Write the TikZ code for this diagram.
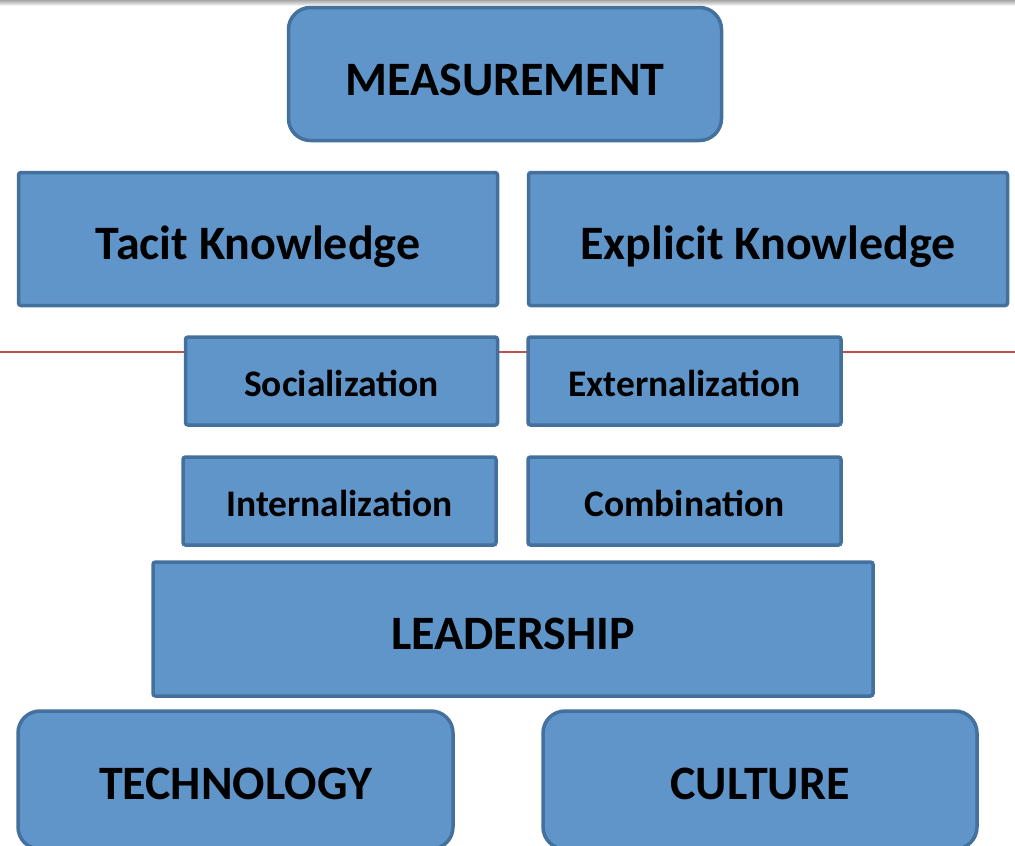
\documentclass[tikz,border=0pt]{standalone}
\usepackage{fontspec}
\setmainfont{Carlito}
\definecolor{boxfill}{HTML}{6095C9}
\definecolor{boxline}{HTML}{44709D}
\definecolor{redline}{HTML}{C0504D}
\tikzset{
  kbox/.style={draw=boxline, fill=boxfill, line width=3.5pt, rounded corners=2.5pt,
    inner sep=0pt, text=black, text depth=0pt},
  rbox/.style={kbox, rounded corners=22pt},
  bigtext/.style={font=\fontsize{48}{54}\selectfont\bfseries, text height=30.7pt},
  smalltext/.style={font=\fontsize{37.5}{42}\selectfont\bfseries, text height=24pt},
}
\begin{document}
\begin{tikzpicture}[x=1pt,y=-1pt]
\useasboundingbox (0,0) rectangle (1015,846);
\begin{scope}
\clip (0,0) rectangle (1015,846);
\shade[top color=black!35, bottom color=white] (0,0) rectangle (1015,6);
\coordinate (rl) at (0,352);
\coordinate (rr) at (1015,352);
\draw[redline, line width=1.3pt] (rl) -- (rr);
\node[rbox, bigtext, minimum width=433pt, minimum height=133pt] (meas) at (505,74)
  {\raisebox{-6pt}{MEASUREMENT}};
\node[kbox, bigtext, minimum width=479pt, minimum height=133pt] (tacit) at (258,239)
  {\raisebox{-5pt}{Tacit Knowledge}};
\node[kbox, bigtext, minimum width=479pt, minimum height=133pt] (expl) at (768,239)
  {\raisebox{-5pt}{Explicit Knowledge}};
\node[kbox, smalltext, minimum width=312pt, minimum height=88pt] (soc) at (341.5,381)
  {\raisebox{-3.5pt}{Socialization}};
\node[kbox, smalltext, minimum width=313pt, minimum height=88pt] (ext) at (684.5,381)
  {\raisebox{-3.5pt}{Externalization}};
\node[kbox, smalltext, minimum width=313pt, minimum height=88pt] (int) at (339.5,501)
  {\raisebox{-3.5pt}{Internalization}};
\node[kbox, smalltext, minimum width=313pt, minimum height=88pt] (comb) at (684.5,501)
  {\raisebox{-3.5pt}{Combination}};
\node[kbox, bigtext, minimum width=720pt, minimum height=134pt] (lead) at (513,629)
  {\raisebox{-5pt}{LEADERSHIP}};
\node[rbox, bigtext, minimum width=435pt, minimum height=138pt] (tech) at (235.5,780)
  {\raisebox{-4pt}{TECHNOLOGY}};
\node[rbox, bigtext, minimum width=434pt, minimum height=138pt] (cult) at (760,780)
  {\raisebox{-4pt}{CULTURE}};
\end{scope}
\end{tikzpicture}
\end{document}
